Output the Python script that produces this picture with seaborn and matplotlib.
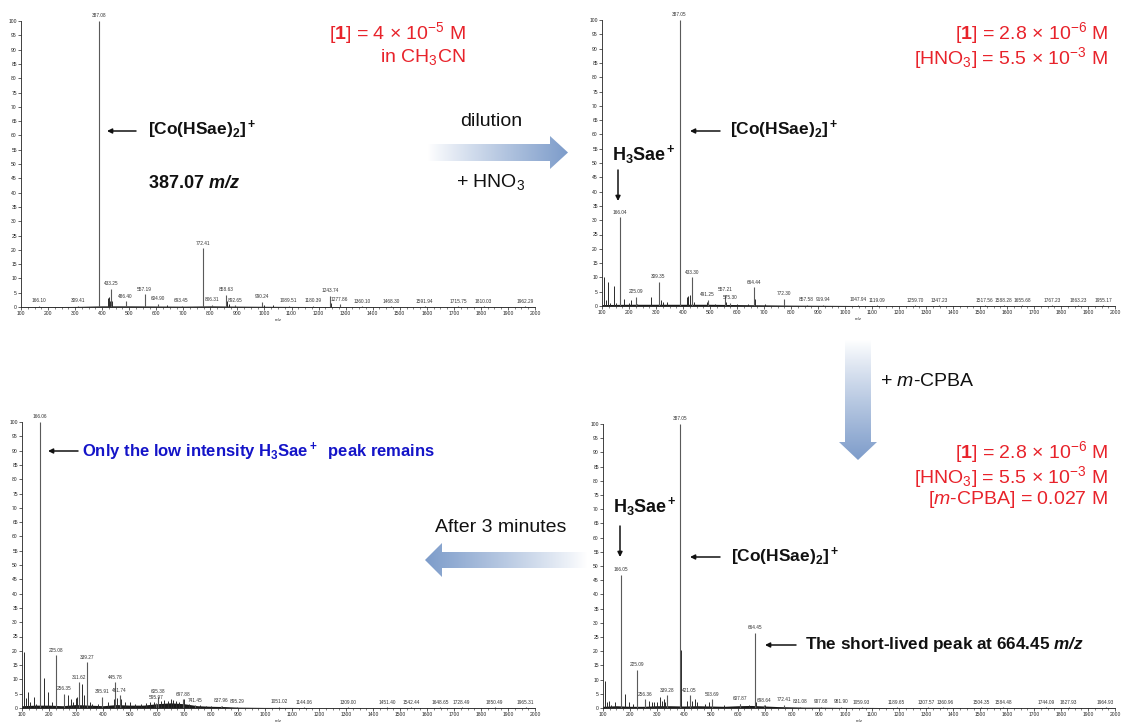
import numpy as np
import matplotlib
matplotlib.use("Agg")
import matplotlib.pyplot as plt
import seaborn as sns
from matplotlib import font_manager
from matplotlib.patches import Polygon
from matplotlib.ticker import MultipleLocator
from matplotlib.colors import to_rgb

# ---------------- spectrum A: [1] in CH3CN ----------------
a_lab_mz = [166.10, 309.41, 387.08, 433.25, 486.40, 557.19, 604.90, 693.45, 772.41,
            806.31, 858.63, 892.65, 990.24, 1089.51, 1180.39, 1243.74, 1277.86,
            1360.10, 1468.30, 1591.94, 1715.75, 1810.03, 1962.29]
a_lab_int = [0.4, 0.5, 100, 6.3, 2.0, 4.5, 1.2, 0.5, 20.5,
             0.8, 4.2, 0.6, 1.8, 0.4, 0.4, 4.0, 1.0,
             0.3, 0.3, 0.3, 0.3, 0.3, 0.3]
a_mz = [388.1, 389.1, 420.0, 425.0, 428.0, 436.0, 489.0, 559.0, 640.0, 773.4, 774.4,
        860.0, 862.0, 870.0, 1000.0, 1030.0, 1245.0]
a_int = [20.0, 4.0, 3.0, 3.5, 2.0, 2.0, 1.5, 1.5, 0.8, 7.0, 2.0,
         2.0, 1.5, 1.0, 0.8, 0.8, 1.5]
a_floor_mz = [100, 300, 400, 500, 700, 800, 900, 1100, 1400, 2000]
a_floor_h = [0.1, 0.2, 0.4, 0.4, 0.3, 0.4, 0.3, 0.2, 0.1, 0.1]

# ---------------- spectrum B: diluted + HNO3 ----------------
b_lab_mz = [166.04, 225.09, 309.35, 387.05, 433.30, 491.25, 557.21, 575.30, 664.44,
            772.30, 857.58, 919.94, 1047.94, 1119.09, 1259.70, 1347.23, 1517.56,
            1588.28, 1655.68, 1767.23, 1863.23, 1955.17]
b_lab_int = [31.0, 3.3, 8.5, 100, 10.0, 2.2, 4.0, 1.2, 6.5,
             2.5, 0.4, 0.4, 0.4, 0.3, 0.3, 0.3, 0.2,
             0.2, 0.2, 0.2, 0.2, 0.2]
b_mz = [107, 113, 122, 130, 143, 150, 167.0, 183, 200, 208, 230, 280, 310.4, 320,
        325, 340, 388.1, 389.1, 415, 420, 425, 434.3, 440, 490, 520, 558.2, 600,
        640, 665.4, 705, 773.3]
b_int = [10.0, 2.0, 8.5, 1.0, 7.0, 1.0, 15.0, 2.5, 1.0, 2.0, 0.8, 3.0, 2.0, 2.0,
         1.5, 1.5, 20.5, 3.0, 3.0, 3.5, 4.0, 3.0, 1.5, 1.5, 0.8, 1.5, 0.8,
         0.6, 2.5, 0.6, 1.0]
b_floor_mz = [100, 200, 300, 400, 500, 600, 700, 800, 1000, 1200, 2000]
b_floor_h = [0.5, 0.6, 0.6, 0.6, 0.6, 0.5, 0.4, 0.3, 0.2, 0.1, 0.1]

# ---------------- spectrum C: after 3 minutes ----------------
c_lab_mz = [166.06, 225.08, 256.35, 311.62, 339.27, 395.91, 445.78, 461.74, 595.97,
            605.38, 697.88, 741.45, 837.96, 895.29, 1051.02, 1144.06, 1309.00,
            1451.40, 1542.44, 1648.65, 1728.49, 1850.49, 1965.31]
c_lab_int = [100, 18.5, 5.0, 9.0, 16.0, 4.0, 9.0, 4.5, 1.8,
             4.0, 3.0, 1.0, 0.8, 0.5, 0.4, 0.3, 0.3,
             0.2, 0.2, 0.2, 0.2, 0.2, 0.2]
c_mz = [107, 113, 122, 130, 143, 150, 167.1, 168.1, 180, 183, 197, 210, 270, 280,
        290, 300, 305, 322, 330, 341, 350, 360, 380, 420, 440, 450, 465, 480, 500,
        520, 540, 560, 575, 590, 615, 625, 640, 650, 660, 670, 680, 700, 720, 760,
        780, 800, 840]
c_int = [19.5, 3.5, 5.5, 2.0, 4.0, 1.5, 74.5, 12.0, 5.0, 10.5, 5.5, 2.0, 4.5, 3.0,
         2.0, 3.5, 4.0, 8.5, 4.5, 6.5, 2.0, 1.5, 1.5, 2.0, 3.0, 3.5, 3.0, 2.0, 2.0,
         1.5, 1.5, 1.8, 2.0, 2.2, 2.5, 2.8, 2.5, 3.3, 2.8, 2.5, 2.0, 3.0, 1.5, 1.0,
         0.8, 0.6, 0.8]
c_floor_mz = [100, 150, 200, 250, 300, 350, 400, 450, 500, 550, 600, 650, 700, 750,
              800, 850, 900, 1000, 1100, 1200, 2000]
c_floor_h = [0.8, 1.0, 1.0, 0.8, 1.2, 1.0, 0.8, 1.2, 1.0, 1.0, 1.5, 1.8, 1.5, 0.8,
             0.6, 0.5, 0.3, 0.2, 0.2, 0.1, 0.1]

# ---------------- spectrum D: + m-CPBA ----------------
d_lab_mz = [166.05, 225.09, 256.36, 339.28, 387.05, 421.05, 503.69, 607.87, 664.45,
            698.64, 772.41, 831.08, 907.68, 981.90, 1059.93, 1189.65, 1307.57,
            1360.96, 1504.35, 1584.48, 1744.09, 1827.93, 1964.93]
d_lab_int = [47.0, 13.5, 3.0, 4.5, 100, 4.5, 3.0, 1.5, 26.5,
             1.0, 1.2, 0.4, 0.4, 0.4, 0.3, 0.3, 0.3,
             0.3, 0.2, 0.2, 0.2, 0.2, 0.2]
d_mz = [107, 113, 122, 130, 143, 167.1, 168.1, 180, 183, 197, 210, 270, 280, 290,
        300, 310, 320, 325, 330, 388.1, 389.1, 410, 430, 440, 450, 480, 495, 550,
        610, 640, 665.4, 666.4, 700]
d_int = [9.5, 2.0, 2.5, 1.0, 2.0, 31.0, 4.0, 3.5, 5.0, 2.0, 1.5, 2.5, 2.0, 2.0,
         2.0, 4.0, 2.5, 3.0, 2.0, 20.5, 3.0, 2.5, 2.5, 3.0, 2.0, 1.5, 2.0, 1.2,
         1.5, 1.0, 10.0, 2.0, 1.0]
d_floor_mz = [100, 150, 200, 250, 300, 350, 400, 450, 500, 550, 600, 650, 700, 750,
              800, 850, 900, 1000, 1100, 1200, 2000]
d_floor_h = [0.6, 0.8, 0.6, 0.6, 0.8, 0.8, 0.7, 0.8, 0.7, 0.6, 0.8, 0.9, 0.7, 0.5,
             0.4, 0.3, 0.3, 0.2, 0.2, 0.1, 0.1]

W, H = 1121, 724

sns.set_theme(style="ticks")
installed = {f.name for f in font_manager.fontManager.ttflist}
NARROW = "Liberation Sans Narrow" if "Liberation Sans Narrow" in installed else "Liberation Sans"
plt.rcParams["font.family"] = ["Liberation Sans", "DejaVu Sans"]
plt.rcParams.update({
    "mathtext.fontset": "custom",
    "mathtext.default": "regular",
    "mathtext.rm": "Liberation Sans",
    "mathtext.it": "Liberation Sans:italic",
    "mathtext.bf": "Liberation Sans:bold",
    "mathtext.sf": "Liberation Sans:bold:italic",
})

fig = plt.figure(figsize=(W / 100, H / 100), dpi=100)
fig.patch.set_facecolor("white")


def px_rect(left, top, right, bottom):
    return [left / W, 1 - bottom / H, (right - left) / W, (bottom - top) / H]


peak_label_sets = []


def draw_spectrum(rect, lab_mz, lab_int, mz, inten, floor_mz, floor_h):
    ax = fig.add_axes(px_rect(*rect))
    ax.set_facecolor("none")
    ax.fill_between(floor_mz, 0, floor_h, color="#1a1a1a", lw=0)
    ax.vlines(mz, 0, inten, color="#2a2a2a", lw=0.7)
    ax.vlines(lab_mz, 0, lab_int, color="#5a5a5a", lw=0.8)
    labels = []
    for m, h in zip(lab_mz, lab_int):
        labels.append(ax.text(m, max(h, 0.3) + 0.9, f"{m:.2f}", ha="center",
                              va="bottom", fontsize=3.4, color="#333333",
                              clip_on=False))
    peak_label_sets.append((ax, labels))
    ax.set_xlim(100, 2000)
    ax.set_ylim(0, 100)
    ax.xaxis.set_major_locator(MultipleLocator(100))
    ax.xaxis.set_minor_locator(MultipleLocator(25))
    ax.yaxis.set_major_locator(MultipleLocator(5))
    ax.tick_params(axis="both", which="major", labelsize=3.6, length=2, width=0.5,
                   pad=1, colors="#222222")
    ax.tick_params(axis="x", which="minor", length=1.2, width=0.4)
    for s in ("left", "bottom"):
        ax.spines[s].set_linewidth(0.6)
        ax.spines[s].set_color("#222222")
    sns.despine(ax=ax)
    ax.set_xlabel("m/z", fontsize=3.2, labelpad=1.5, color="#333333")
    ax.grid(False)
    return ax


draw_spectrum((21, 21, 535, 307), a_lab_mz, a_lab_int, a_mz, a_int, a_floor_mz, a_floor_h)
draw_spectrum((602, 20, 1115, 306), b_lab_mz, b_lab_int, b_mz, b_int, b_floor_mz, b_floor_h)
draw_spectrum((22, 422, 535, 708), c_lab_mz, c_lab_int, c_mz, c_int, c_floor_mz, c_floor_h)
draw_spectrum((603, 424, 1115, 708), d_lab_mz, d_lab_int, d_mz, d_int, d_floor_mz, d_floor_h)

# nudge neighbouring peak labels apart where they would collide
fig.canvas.draw()
renderer = fig.canvas.get_renderer()
for ax, labels in peak_label_sets:
    px_per_unit = ax.transData.transform((101, 0))[0] - ax.transData.transform((100, 0))[0]
    for left, right in zip(labels[:-1], labels[1:]):
        b1 = left.get_window_extent(renderer)
        b2 = right.get_window_extent(renderer)
        if b1.overlaps(b2):
            gap = (b1.x1 - b2.x0) / 2 + 0.8
            x1, y1 = left.get_position()
            x2, y2 = right.get_position()
            left.set_position((x1 - gap / px_per_unit, y1))
            right.set_position((x2 + gap / px_per_unit, y2))

# overlay in pixel coordinates for annotations and process arrows
ov = fig.add_axes([0, 0, 1, 1], zorder=10)
ov.set_xlim(0, W)
ov.set_ylim(H, 0)
ov.axis("off")
ov.patch.set_alpha(0)

BLUE = np.array(to_rgb("#7d9cca"))
PALE = np.array(to_rgb("#ffffff"))


def gradient_arrow(verts, axis, blue_at_high):
    poly = Polygon(verts, closed=True, facecolor="none", edgecolor="none")
    ov.add_patch(poly)
    xs = [v[0] for v in verts]
    ys = [v[1] for v in verts]
    x0, x1, y0, y1 = min(xs), max(xs), min(ys), max(ys)
    t = np.linspace(0, 1, 256)
    if not blue_at_high:
        t = t[::-1]
    t = t ** 0.9
    cols = PALE[None, :] * (1 - t[:, None]) + BLUE[None, :] * t[:, None]
    if axis == "x":
        img = cols[None, :, :]
    else:
        img = cols[:, None, :]
    im = ov.imshow(img, extent=(x0, x1, y1, y0), origin="upper", aspect="auto",
                   interpolation="bilinear", zorder=1)
    im.set_clip_path(poly)


# right arrow (dilution)
gradient_arrow([(428, 144), (550, 144), (550, 136), (568, 152.5), (550, 169),
                (550, 161), (428, 161)], "x", True)
# down arrow (+ m-CPBA)
gradient_arrow([(845, 340), (871, 340), (871, 442), (877, 442), (858, 460),
                (839, 442), (845, 442)], "y", True)
# left arrow (after 3 minutes)
gradient_arrow([(587, 552), (442, 552), (442, 543), (425, 560), (442, 577),
                (442, 568), (587, 568)], "x", False)

RED = "#e8232b"
BLK = "#111111"
BLU = "#1414c8"
fs_red = 14


def ptr(x0, y0, x1, y1):
    ov.annotate("", xy=(x1, y1), xytext=(x0, y0),
                arrowprops=dict(arrowstyle="-|>", color=BLK, lw=1.1,
                                mutation_scale=7, shrinkA=0, shrinkB=0))


# red condition labels
ov.text(466, 33, r"[$\mathbf{1}$] = 4 × 10$^{−5}$ M", color=RED, fontsize=fs_red,
        ha="right", va="center")
ov.text(466, 57, r"in CH$_3$CN", color=RED, fontsize=fs_red, ha="right", va="center")
ov.text(1108, 33, r"[$\mathbf{1}$] = 2.8 × 10$^{−6}$ M", color=RED, fontsize=fs_red,
        ha="right", va="center")
ov.text(1108, 58, r"[HNO$_3$] = 5.5 × 10$^{−3}$ M", color=RED, fontsize=fs_red,
        ha="right", va="center")
ov.text(1108, 452, r"[$\mathbf{1}$] = 2.8 × 10$^{−6}$ M", color=RED, fontsize=fs_red,
        ha="right", va="center")
ov.text(1108, 477, r"[HNO$_3$] = 5.5 × 10$^{−3}$ M", color=RED, fontsize=fs_red,
        ha="right", va="center")
ov.text(1108, 500, r"[$\mathit{m}$-CPBA] = 0.027 M", color=RED, fontsize=fs_red,
        ha="right", va="center")

# process step labels
ov.text(491, 122, "dilution", color=BLK, fontsize=fs_red, ha="center", va="center")
ov.text(491, 182, r"+ HNO$_3$", color=BLK, fontsize=fs_red, ha="center", va="center")
ov.text(880, 382, r"+ $\mathit{m}$-CPBA", color=BLK, fontsize=fs_red, ha="left",
        va="center")
ov.text(501, 527, "After 3 minutes", color=BLK, fontsize=fs_red, ha="center",
        va="center")

bold = dict(family=[NARROW, "Liberation Sans"], fontweight="bold")

# spectrum A annotations
ptr(136, 131, 107, 131)
ov.text(148, 130, r"[Co(HSae)$_2$]$^+$", color=BLK, ha="left", va="center",
        fontsize=12.5, **bold)
ov.text(148, 183, r"387.07 $\mathsf{m/z}$", color=BLK, ha="left", va="center",
        fontsize=13, **bold)

# spectrum B annotations
ov.text(612, 155, r"H$_3$Sae$^+$", color=BLK, ha="left", va="center", fontsize=13,
        **bold)
ptr(618, 170, 618, 201)
ptr(720, 131, 690, 131)
ov.text(730, 130, r"[Co(HSae)$_2$]$^+$", color=BLK, ha="left", va="center",
        fontsize=12.5, **bold)

# spectrum C annotation
ptr(78, 451, 48, 451)
ov.text(82, 452, r"Only the low intensity H$_3$Sae$^+$  peak remains", color=BLU,
        ha="left", va="center", fontsize=12, **bold)

# spectrum D annotations
ov.text(613, 507, r"H$_3$Sae$^+$", color=BLK, ha="left", va="center", fontsize=13,
        **bold)
ptr(620, 526, 620, 557)
ptr(720, 557, 690, 557)
ov.text(731, 557, r"[Co(HSae)$_2$]$^+$", color=BLK, ha="left", va="center",
        fontsize=12.5, **bold)
ptr(796, 645, 765, 645)
ov.text(805, 645, r"The short-lived peak at 664.45 $\mathsf{m/z}$", color=BLK,
        ha="left", va="center", fontsize=12.3, **bold)

fig.savefig("out.png", dpi=100, facecolor="white")
